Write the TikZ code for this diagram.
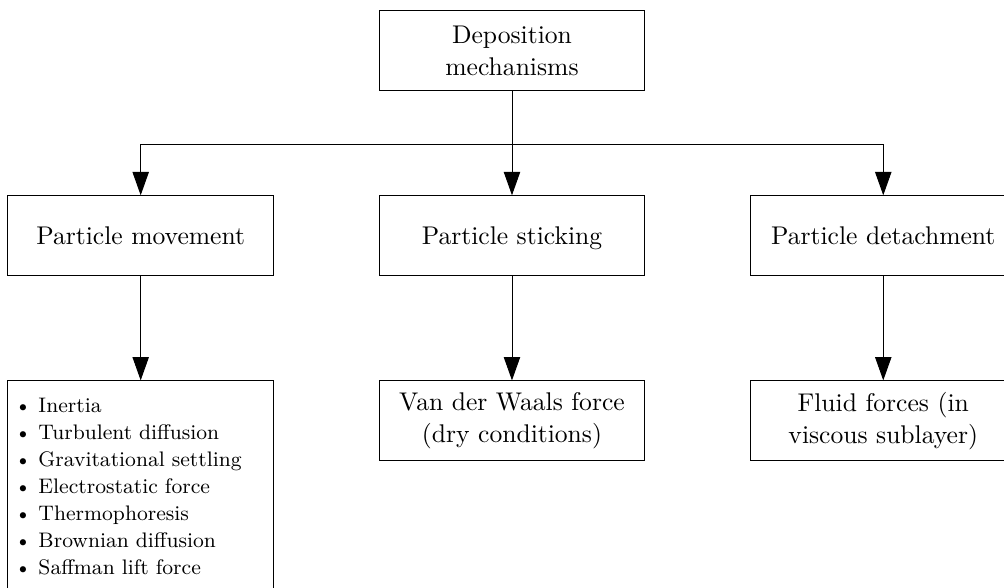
\documentclass[tikz,border=0pt,11pt]{standalone}
\usepackage{amsmath}
\usepackage{tikz}
\usetikzlibrary{arrows.meta, positioning, shapes, calc}

\begin{document}
\begin{tikzpicture}[
    node distance=1.57cm,
    block/.style={rectangle, draw, minimum width=4cm, minimum height=1.2cm, align=center},
    stage/.style={block, text height=1.6ex, text depth=0pt},
    listbox/.style={rectangle, draw, text width=3.79cm, align=left, inner xsep=3pt, inner ysep=7.5pt, font=\fontsize{9}{11.5}\selectfont},
    arrow/.style={-{Triangle[length=10pt, width=7pt]}}
  ]
    \useasboundingbox (0,0) rectangle (15.1,-8.83);

    \node[block] (dep) at (7.70,-0.76) {Deposition\\mechanisms};
    \node[stage, below=of dep] (stick) {Particle sticking};
    \node[stage, left=of stick] (move) {Particle movement};
    \node[stage, right=of stick] (detach) {Particle detachment};

    \node[listbox, below=of move] (mech) {\textbullet\ Inertia\\
      \textbullet\ Turbulent diffusion\\
      \textbullet\ Gravitational settling\\
      \textbullet\ Electrostatic force\\
      \textbullet\ Thermophoresis\\
      \textbullet\ Brownian diffusion\\
      \textbullet\ Saffman lift force};
    \node[block, below=of stick] (vdw) {Van der Waals force\\(dry conditions)};
    \node[block, below=of detach] (fluid) {Fluid forces (in\\viscous sublayer)};

    \coordinate[below=0.8cm of dep.south] (split);

    \draw[arrow] (dep.south) -- (split) -| (move.north);
    \draw[arrow] (dep.south) -- (split) -| (stick.north);
    \draw[arrow] (dep.south) -- (split) -| (detach.north);

    \draw[arrow] (move) -- (mech);
    \draw[arrow] (stick) -- (vdw);
    \draw[arrow] (detach) -- (fluid);
  \end{tikzpicture}
\end{document}
